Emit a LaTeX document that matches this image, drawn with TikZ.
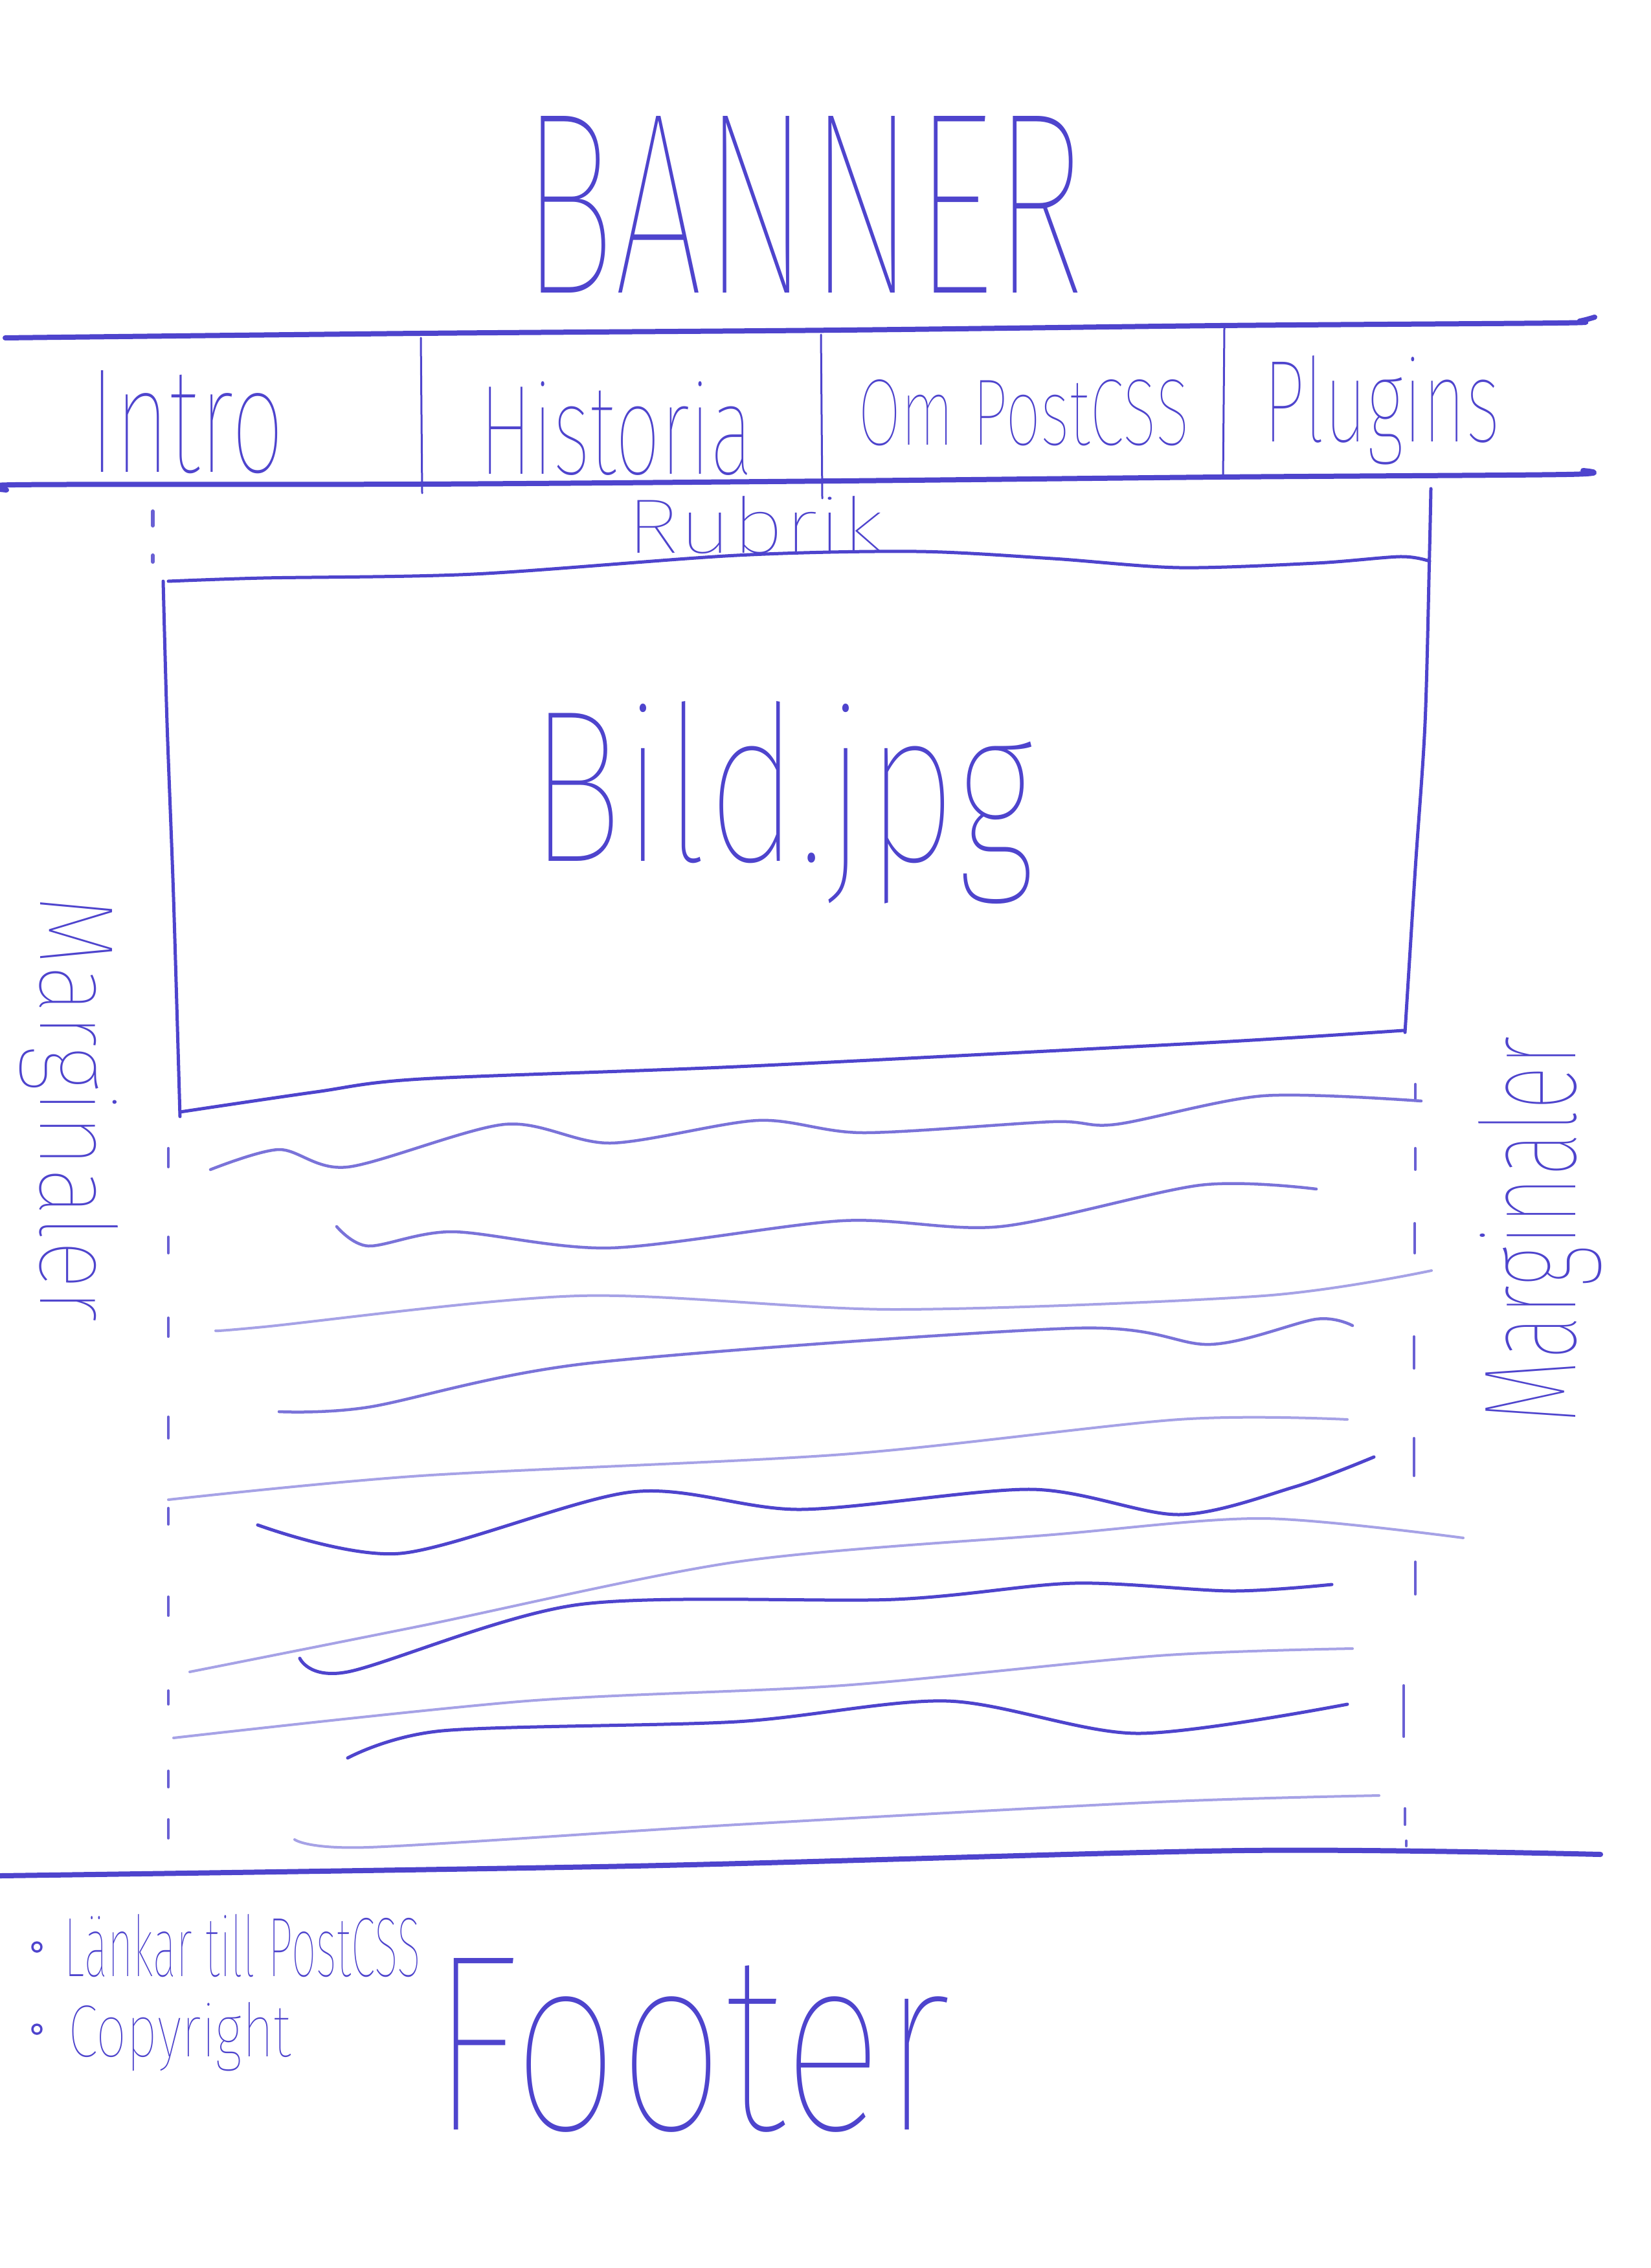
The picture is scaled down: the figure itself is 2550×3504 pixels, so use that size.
\documentclass[tikz,border=0pt]{standalone}
\usepackage{fontspec}
\newfontfamily\hand{Fira Sans Thin}
\definecolor{ink}{RGB}{78,68,205}
\newcommand\hw[4]{\resizebox{#2}{#3}{\fontsize{#1}{#1}\hand #4}}
\begin{document}
\begin{tikzpicture}[x=0.1pt,y=-0.1pt,
  txt/.style={inner sep=0pt, outer sep=0pt, text=ink},
  pen/.style={draw=ink, line width=0.5pt, line cap=round, line join=round},
  heavy/.style={pen, line width=0.8pt},
  divider/.style={pen, line width=0.3pt},
  faint/.style={draw=ink!50, line width=0.4pt, line cap=round},
  mid/.style={draw=ink!75, line width=0.45pt, line cap=round},
  dark/.style={draw=ink, line width=0.5pt, line cap=round},
  tick/.style={draw=ink!85, line width=0.4pt, line cap=round}]
\fill[white] (0,0) rectangle (2550,3504);
\useasboundingbox (0,0) rectangle (2550,3504);

% ---- banner ----
\node[txt, anchor=base west] (banner) at (805,453) {\hw{40pt}{87.1pt}{27.3pt}{BANNER}};

% ---- navigation ----
\draw[heavy] plot[smooth] coordinates {(8,522) (650,515) (1300,510) (1886,503) (2407,499) (2440,496) (2463,490)};
\draw[heavy] plot[smooth] coordinates {(10,757) (24,749) (650,748) (1300,743) (1886,737) (2420,733) (2445,727)};
\draw[divider] (650,522) -- (652,762);
\draw[divider] (1268,517) -- (1270,770);
\draw[divider] (1891,505) -- (1889,737);
\node[txt, anchor=base west] (intro) at (138,730) {\hw{22pt}{30.1pt}{15.7pt}{Intro}};
\node[txt, anchor=base west] (historia) at (740,733) {\hw{20pt}{42.3pt}{14.3pt}{Historia}};
\node[txt, anchor=base west] (ompostcss) at (1325,688) {\hw{15pt}{51.2pt}{10.1pt}{Om PostCSS}};
\node[txt, anchor=base west] (plugins) at (1951,683) {\hw{18pt}{36.6pt}{13.3pt}{Plugins}};

% ---- heading ----
\node[txt, anchor=base west] (rubrik) at (967,855) {\hw{13pt}{39.9pt}{8.8pt}{Rubrik}};

% ---- image box ----
\draw[pen] plot[smooth] coordinates {(260,898) (407,893) (732,887) (1138,858) (1415,852) (1626,863) (1821,877) (2033,870) (2163,860) (2208,867)};
\draw[pen] plot[smooth] coordinates {(2210,755) (2208,849) (2201,1117) (2186,1341) (2170,1595)};
\draw[pen] plot[smooth] coordinates {(252,898) (258,1117) (268,1386) (278,1725)};
\draw[pen] plot[smooth] coordinates {(278,1718) (488,1687) (650,1667) (1138,1648) (1789,1615) (2000,1603) (2168,1592)};
\node[txt, anchor=base west] (bild) at (817,1330) {\hw{34pt}{78.1pt}{24.7pt}{Bild.jpg}};

% ---- margins ----
\foreach \a/\b in {790/812, 858/868} \draw[tick, line width=0.6pt] (236,\a) -- (236,\b);
\foreach \a/\b in {1774/1803, 1911/1936, 2036/2065, 2189/2222, 2330/2355, 2467/2496, 2612/2633, 2736/2761, 2811/2840}
  \draw[tick] (260,\a) -- (260,\b);
\foreach \x/\a/\b in {2186/1675/1700, 2186/1774/1807, 2185/1890/1936, 2184/2065/2114, 2184/2222/2280, 2186/2413/2463, 2168/2604/2683, 2170/2794/2819, 2172/2844/2852}
  \draw[tick] (\x,\a) -- (\x,\b);
\node[txt, anchor=base west, rotate=-90] (margleft) at (62,1383) {\hw{18pt}{66pt}{12pt}{Marginaler}};
\node[txt, anchor=base west, rotate=90] (margright) at (2433,2199) {\hw{21pt}{59.8pt}{15pt}{Marginaler}};

% ---- body text lines ----
\draw[mid] plot[smooth] coordinates {(325,1807) (431,1776) (537,1803) (780,1737) (943,1766) (1171,1731) (1333,1750) (1626,1733) (1724,1737) (1951,1693) (2195,1701)};
\draw[mid] plot[smooth] coordinates {(520,1895) (569,1925) (699,1903) (943,1928) (1301,1886) (1545,1895) (1854,1831) (2033,1837)};
\draw[faint] plot[smooth] coordinates {(333,2056) (407,2050) (894,2002) (1382,2023) (1951,2002) (2211,1963)};
\draw[mid] plot[smooth] coordinates {(431,2181) (569,2174) (911,2106) (1659,2052) (1870,2077) (2033,2038) (2089,2048)};
\draw[faint] plot[smooth] coordinates {(260,2317) (650,2280) (1301,2247) (1821,2193) (2081,2193)};
\draw[dark] plot[smooth] coordinates {(398,2356) (618,2400) (976,2305) (1236,2332) (1593,2301) (1821,2340) (2000,2297) (2122,2251)};
\draw[faint] plot[smooth] coordinates {(293,2583) (650,2512) (1138,2413) (1626,2371) (1951,2346) (2260,2376)};
\draw[dark] plot[smooth] coordinates {(463,2562) (537,2583) (894,2479) (1382,2471) (1659,2446) (1902,2458) (2057,2448)};
\draw[faint] plot[smooth] coordinates {(268,2685) (813,2628) (1301,2604) (1789,2558) (2089,2547)};
\draw[dark] plot[smooth] coordinates {(537,2716) (683,2674) (1138,2660) (1463,2628) (1756,2678) (2081,2633)};
\draw[faint] plot[smooth] coordinates {(455,2842) (569,2854) (1138,2819) (1789,2784) (2130,2774)};

% ---- footer ----
\draw[heavy] plot[smooth] coordinates {(0,2898) (976,2883) (1919,2859) (2472,2865)};
\draw[pen, line width=0.35pt] (57,3008) circle[radius=7];
\draw[pen, line width=0.35pt] (57,3135) circle[radius=7];
\node[txt, anchor=base west] (links) at (100,3053) {\hw{13pt}{55pt}{9.6pt}{Länkar till PostCSS}};
\node[txt, anchor=base west] (copyright) at (105,3177) {\hw{12pt}{34.5pt}{8.4pt}{Copyright}};
\node[txt, anchor=base west] (footer) at (665,3290) {\hw{38pt}{80.4pt}{26.5pt}{Footer}};
\end{tikzpicture}
\end{document}
